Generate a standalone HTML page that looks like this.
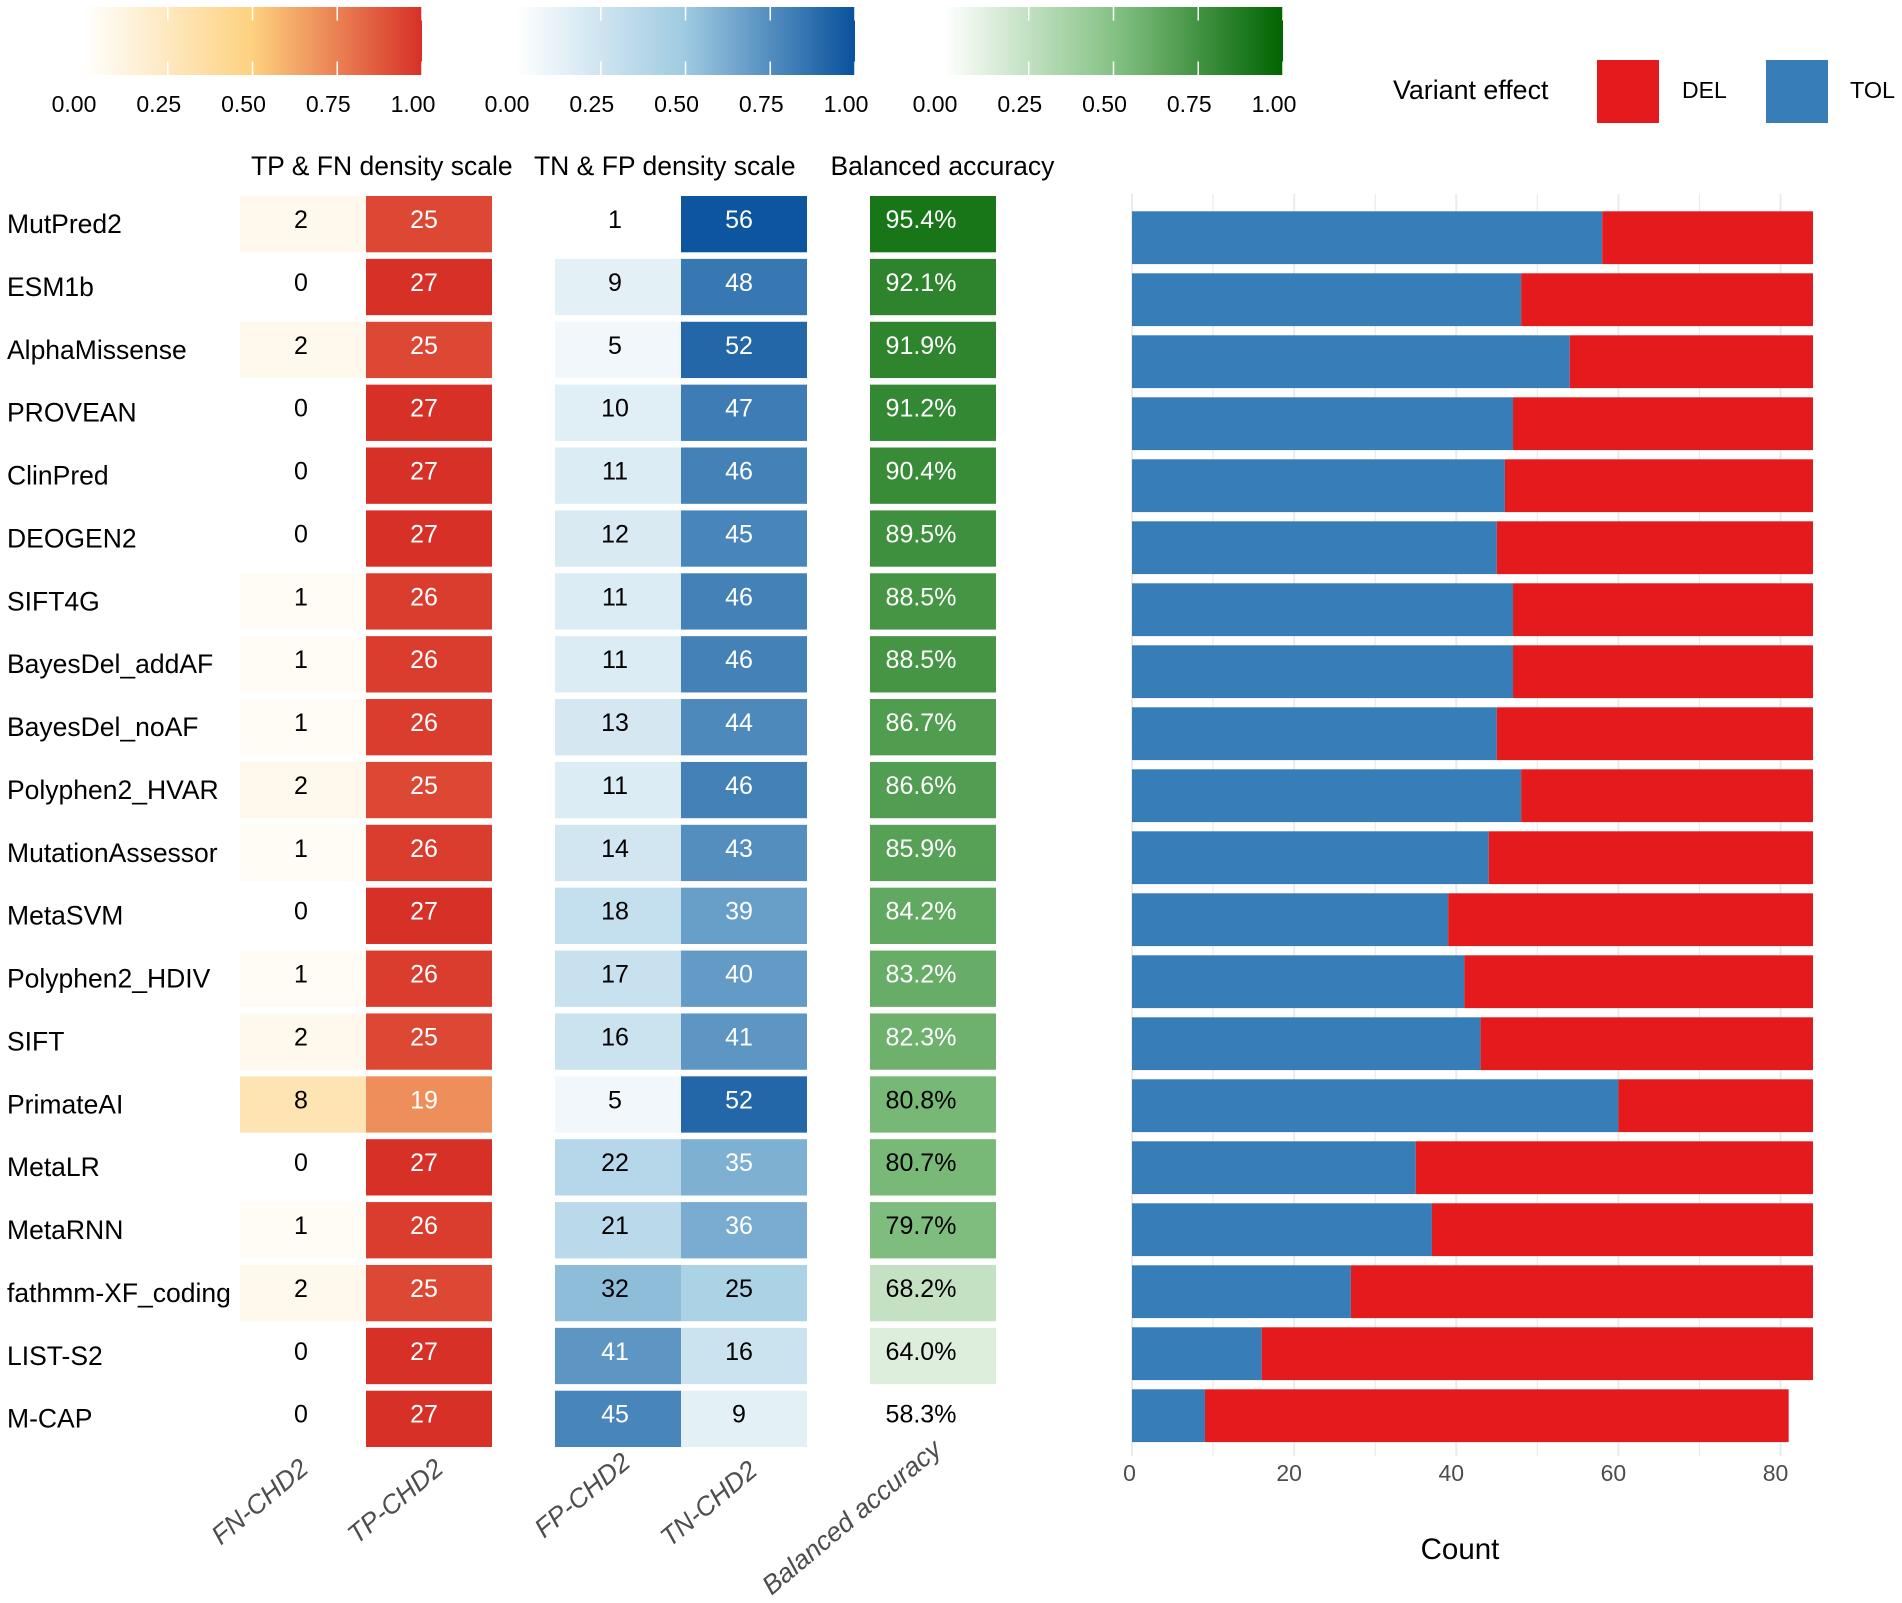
<!DOCTYPE html>
<html lang="en">
<head>
<meta charset="utf-8">
<title>Variant effect predictor performance</title>
<style>
html,body{margin:0;padding:0;background:#fff;width:1902px;height:1603px;overflow:hidden}
svg{display:block;font-family:"Liberation Sans",Arial,sans-serif}
text{fill:#000}
</style>
</head>
<body>
<svg id="chart" xmlns="http://www.w3.org/2000/svg" width="1902" height="1603" viewBox="0 0 1902 1603">
  <defs>
    <linearGradient id="grad-red"><stop offset="0" stop-color="#ffffff"/><stop offset="0.5" stop-color="#fdd17f"/><stop offset="1" stop-color="#d73027"/></linearGradient>
    <linearGradient id="grad-blue"><stop offset="0" stop-color="#ffffff"/><stop offset="0.5" stop-color="#9ecae1"/><stop offset="1" stop-color="#08519c"/></linearGradient>
    <linearGradient id="grad-green"><stop offset="0" stop-color="#ffffff"/><stop offset="0.5" stop-color="#85c285"/><stop offset="1" stop-color="#006400"/></linearGradient>
  </defs>
  <rect x="0" y="0" width="1902" height="1603" fill="#fff"/>
  <g id="colorbars">
    <rect x="83" y="7" width="339" height="68" fill="url(#grad-red)"/>
    <rect x="516" y="7" width="339" height="68" fill="url(#grad-blue)"/>
    <rect x="944" y="7" width="339" height="68" fill="url(#grad-green)"/>
  </g>
  <g>
    <text x="1393" y="99" font-size="26.8">Variant effect</text>
    <rect x="1597" y="60" width="62" height="63" fill="#e41a1c"/>
    <text x="1682" y="98" font-size="23">DEL</text>
    <rect x="1766" y="60" width="62" height="63" fill="#377eb8"/>
    <text x="1850" y="98" font-size="23.4">TOL</text>
  </g>
  <text x="251" y="175" font-size="26.5">TP &amp; FN density scale</text>
  <text x="534" y="175" font-size="26.5">TN &amp; FP density scale</text>
  <text x="830.5" y="175" font-size="26.5">Balanced accuracy</text>
  <g id="grid"></g>
  <g id="bars"></g>
  <g id="cells"></g>
  <g id="rows"></g>
  <g id="xticks"></g>
  <text x="1460" y="1559" font-size="29.5" text-anchor="middle">Count</text>
  <g font-size="26.5" font-style="italic" style="fill:#4d4d4d">
    <text transform="translate(310,1471) rotate(-40)" text-anchor="end" style="fill:#4d4d4d">FN-CHD2</text>
    <text transform="translate(445,1471) rotate(-40)" text-anchor="end" style="fill:#4d4d4d">TP-CHD2</text>
    <text transform="translate(632,1465) rotate(-40)" text-anchor="end" style="fill:#4d4d4d">FP-CHD2</text>
    <text transform="translate(759,1473) rotate(-40)" text-anchor="end" style="fill:#4d4d4d">TN-CHD2</text>
    <text transform="translate(943,1452) rotate(-40)" text-anchor="end" style="fill:#4d4d4d">Balanced accuracy</text>
  </g>
</svg>
<script>
const methods = ["MutPred2","ESM1b","AlphaMissense","PROVEAN","ClinPred","DEOGEN2","SIFT4G","BayesDel_addAF","BayesDel_noAF","Polyphen2_HVAR","MutationAssessor","MetaSVM","Polyphen2_HDIV","SIFT","PrimateAI","MetaLR","MetaRNN","fathmm-XF_coding","LIST-S2","M-CAP"];
const fnValues = [2,0,2,0,0,0,1,1,1,2,1,0,1,2,8,0,1,2,0,0];
const tpValues = [25,27,25,27,27,27,26,26,26,25,26,27,26,25,19,27,26,25,27,27];
const fpValues = [1,9,5,10,11,12,11,11,13,11,14,18,17,16,5,22,21,32,41,45];
const tnValues = [56,48,52,47,46,45,46,46,44,46,43,39,40,41,52,35,36,25,16,9];
const accuracyValues = [95.4,92.1,91.9,91.2,90.4,89.5,88.5,88.5,86.7,86.6,85.9,84.2,83.2,82.3,80.8,80.7,79.7,68.2,64.0,58.3];
const tolCounts = [58,48,54,47,46,45,47,47,45,48,44,39,41,43,60,35,37,27,16,9];
const delCounts = [26,36,30,37,38,39,37,37,39,36,40,45,43,41,24,49,47,57,68,72];
const countTicks = [0,20,40,60,80];
const countGrid = [0,10,20,30,40,50,60,70,80];
const legendTicks = [0,0.25,0.5,0.75,1];

const NS = 'http://www.w3.org/2000/svg';
const posTotal = 56, detTotal = 27, accMin = 58.3, accMax = 99;

function xCount(v){ return 1132 + v * 8.107; }
function yCell(i){ return 196 + i * 62.88; }
function yBar(i){ return 211.3 + i * 62; }
function lerp(a,b,t){ return Math.round(a + (b - a) * t); }
function ramp(stops,t){
  t = Math.max(0, Math.min(1, t));
  const s = t < 0.5 ? [stops[0], stops[1], t * 2] : [stops[1], stops[2], (t - 0.5) * 2];
  return 'rgb(' + lerp(s[0][0], s[1][0], s[2]) + ',' + lerp(s[0][1], s[1][1], s[2]) + ',' + lerp(s[0][2], s[1][2], s[2]) + ')';
}
const redStops = [[255,255,255],[253,209,127],[215,48,39]];
const blueStops = [[255,255,255],[158,202,225],[8,81,156]];
const greenStops = [[255,255,255],[133,194,133],[0,100,0]];

function mk(tag, parent){
  const e = document.createElementNS(NS, tag);
  parent.appendChild(e);
  return e;
}
function place(e, x, y, w, h, fill){
  e.setAttribute('x', x); e.setAttribute('y', y);
  e.setAttribute('width', w); e.setAttribute('height', h);
  e.setAttribute('fill', fill);
}
function label(e, x, y, size, str, fill, anchor){
  e.setAttribute('x', x); e.setAttribute('y', y);
  e.setAttribute('font-size', size);
  e.setAttribute('text-anchor', anchor);
  e.style.fill = fill;
  e.textContent = str;
}

/* colour-bar ticks and labels */
const colorbarHost = document.getElementById('colorbars');
[83, 516, 944].forEach(function(x0){
  legendTicks.forEach(function(t){
    const x = x0 + t * 339;
    const top = mk('rect', colorbarHost);
    
    
    place(top, x - 0.75, 7, 1.5, 13.5, '#fff');
    const bot = mk('rect', colorbarHost);
    
    
    place(bot, x - 0.75, 61.5, 1.5, 13.5, '#fff');
    const lab = mk('text', colorbarHost);
    
    
    label(lab, x - 9, 112, 23, t.toFixed(2), '#000', 'middle');
  });
});

/* gridlines */
const gridHost = document.getElementById('grid');
countGrid.forEach(function(v){
  const g = mk('rect', gridHost);
  
  
  const w = v % 20 === 0 ? 2 : 1.2;
  place(g, xCount(v) - w / 2, 194, w, 1262, '#ebebeb');
});

/* stacked bars */
const barHost = document.getElementById('bars');
methods.forEach(function(m, i){
  const t = mk('rect', barHost);
  
  
  place(t, xCount(0), yBar(i), xCount(tolCounts[i]) - xCount(0), 52.8, '#377eb8');
  const d = mk('rect', barHost);
  
  
  place(d, xCount(tolCounts[i]), yBar(i), xCount(tolCounts[i] + delCounts[i]) - xCount(tolCounts[i]), 52.8, '#e41a1c');
});

/* heatmap cells */
const cellHost = document.getElementById('cells');
function addCell(x, w, textX, i, fill, str, white, name){
  const r = mk('rect', cellHost);
  
  
  place(r, x, yCell(i), w, 56.3, fill);
  const s = mk('text', cellHost);
  
  
  label(s, textX, yCell(i) + 32, 25, str, white ? '#fff' : '#000', 'middle');
}
const threshold = 0.57;
function blueT(v){ return (v - 1) / posTotal; }
methods.forEach(function(m, i){
  addCell(240, 126, 301, i, ramp(redStops, fnValues[i] / detTotal), String(fnValues[i]), fnValues[i] / detTotal > threshold, 'fn');
  addCell(366, 126, 424, i, ramp(redStops, tpValues[i] / detTotal), String(tpValues[i]), tpValues[i] / detTotal > threshold, 'tp');
  addCell(555, 126, 615, i, ramp(blueStops, blueT(fpValues[i])), String(fpValues[i]), blueT(fpValues[i]) > threshold, 'fp');
  addCell(681, 126, 739, i, ramp(blueStops, blueT(tnValues[i])), String(tnValues[i]), blueT(tnValues[i]) > threshold, 'tn');
  const ta = (accuracyValues[i] - accMin) / (accMax - accMin);
  addCell(870, 126, 921, i, ramp(greenStops, ta), accuracyValues[i].toFixed(1) + '%', ta > threshold, 'accuracy');
});

/* method labels */
const rowHost = document.getElementById('rows');
methods.forEach(function(m, i){
  const t = mk('text', rowHost);
  
  
  label(t, 7, yCell(i) + 37, 26.5, m, '#000', 'start');
});

/* count axis tick labels */
const tickHost = document.getElementById('xticks');
countTicks.forEach(function(v){
  const t = mk('text', tickHost);
  
  
  label(t, xCount(v) - 2.5 * String(v).length, 1481, 23, String(v), '#4d4d4d', 'middle');
});
</script>
</body>
</html>
